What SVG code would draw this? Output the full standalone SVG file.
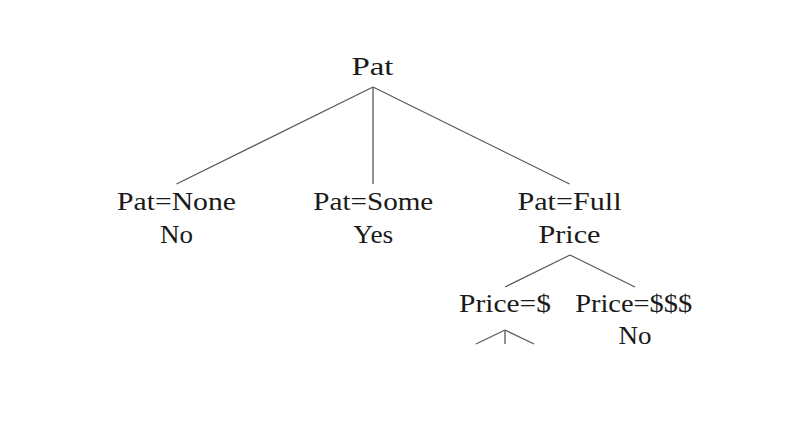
<svg xmlns="http://www.w3.org/2000/svg" width="810" height="430" viewBox="0 0 810 430">
<style>
text{font-family:"Liberation Serif","Times New Roman",serif;font-size:25px;fill:#1a1a1a;text-anchor:middle}
.e{stroke:#5a5a5a;stroke-width:1.3;fill:none}
</style>
<rect width="810" height="430" fill="#fff"/>
<g id="connectors">
<line class="e" x1="373" y1="87" x2="176.5" y2="184"/>
<line class="e" x1="373" y1="87" x2="373" y2="184"/>
<line class="e" x1="373" y1="87" x2="569.5" y2="184"/>
<line class="e" x1="570" y1="255" x2="505" y2="287"/>
<line class="e" x1="570" y1="255" x2="635" y2="287"/>
<line class="e" x1="505" y1="330" x2="476" y2="344"/>
<line class="e" x1="505" y1="330" x2="505" y2="344"/>
<line class="e" x1="505" y1="330" x2="534" y2="344"/>
</g>
<g id="root"><text x="372.5" y="74.5" textLength="42" lengthAdjust="spacingAndGlyphs">Pat</text></g>
<g id="none"><text x="176.5" y="209.5" textLength="119" lengthAdjust="spacingAndGlyphs">Pat=None</text><text x="176.5" y="243" textLength="33" lengthAdjust="spacingAndGlyphs">No</text></g>
<g id="some"><text x="373.3" y="209.5" textLength="120" lengthAdjust="spacingAndGlyphs">Pat=Some</text><text x="373.3" y="243" textLength="40" lengthAdjust="spacingAndGlyphs">Yes</text></g>
<g id="full"><text x="569.5" y="209.5" textLength="104" lengthAdjust="spacingAndGlyphs">Pat=Full</text><text x="569.5" y="243" textLength="62" lengthAdjust="spacingAndGlyphs">Price</text></g>
<g id="price1"><text x="505" y="312" textLength="92" lengthAdjust="spacingAndGlyphs">Price=$</text></g>
<g id="price3"><text x="633.7" y="312" textLength="117" lengthAdjust="spacingAndGlyphs">Price=$$$</text><text x="635" y="344" textLength="33" lengthAdjust="spacingAndGlyphs">No</text></g>
</svg>
